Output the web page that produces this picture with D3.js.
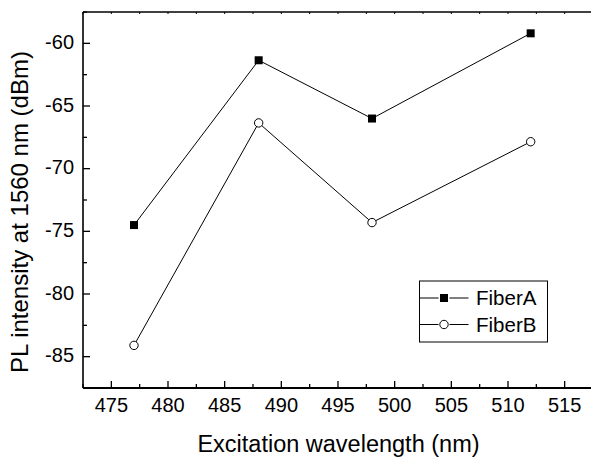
<!DOCTYPE html>
<html>
<head>
<meta charset="utf-8">
<script src="https://cdn.jsdelivr.net/npm/d3@7"></script>
<style>
  body { margin: 0; background: #fff; }
  text { font-family: Arial, "Liberation Sans", sans-serif; }
</style>
</head>
<body>
<div id="chart"></div>
<script>
// excitation wavelengths (nm)
const wavelengths = [477, 488, 498, 512];
// PL intensity at 1560 nm (dBm)
const fiberA = [-74.5, -61.35, -66.0, -59.2];
const fiberB = [-84.1, -66.35, -74.3, -67.85];
const seriesNames = ["FiberA", "FiberB"];
const xTicks = [475, 480, 485, 490, 495, 500, 505, 510, 515];
const yTicks = [-85, -80, -75, -70, -65, -60];

const width = 591, height = 457;
const margin = { top: 12, left: 83, right: -2, bottom: 69 };

const svg = d3.select("#chart").append("svg")
    .attr("width", width)
    .attr("height", height);

const x = d3.scaleLinear()
    .domain([472.5, 517.5])
    .range([margin.left, width - margin.right]);

const y = d3.scaleLinear()
    .domain([-87.5, -57.5])
    .range([height - margin.bottom, margin.top]);

const x0 = margin.left, x1 = width - margin.right;
const y0 = height - margin.bottom, y1 = margin.top;

// minor ticks
const xMinor = d3.range(472.5, 518, 2.5).filter(v => !xTicks.includes(v));
const yMinor = d3.range(-87.5, -57, 2.5).filter(v => !yTicks.includes(v));

// bottom axis
svg.append("g").selectAll("line.xmaj").data(xTicks).enter().append("line")
    .attr("x1", d => x(d)).attr("x2", d => x(d))
    .attr("y1", y0).attr("y2", y0 - 7)
    .attr("stroke", "#000").attr("stroke-width", 1.3);
svg.append("g").selectAll("line.xmin").data(xMinor).enter().append("line")
    .attr("x1", d => x(d)).attr("x2", d => x(d))
    .attr("y1", y0).attr("y2", y0 - 4)
    .attr("stroke", "#000").attr("stroke-width", 1.3);
svg.append("g").selectAll("text").data(xTicks).enter().append("text")
    .attr("x", d => x(d)).attr("y", 411.7)
    .attr("text-anchor", "middle")
    .style("font-size", "20px")
    .text(d => d);

// top axis ticks (small)
svg.append("g").selectAll("line").data(xTicks.concat(xMinor)).enter().append("line")
    .attr("x1", d => x(d)).attr("x2", d => x(d))
    .attr("y1", y1).attr("y2", y1 + 2)
    .attr("stroke", "#000").attr("stroke-width", 1);

// left axis
svg.append("g").selectAll("line").data(yTicks).enter().append("line")
    .attr("x1", x0).attr("x2", x0 + 7)
    .attr("y1", d => y(d)).attr("y2", d => y(d))
    .attr("stroke", "#000").attr("stroke-width", 1.3);
svg.append("g").selectAll("line").data(yMinor).enter().append("line")
    .attr("x1", x0).attr("x2", x0 + 4)
    .attr("y1", d => y(d)).attr("y2", d => y(d))
    .attr("stroke", "#000").attr("stroke-width", 1.3);
svg.append("g").selectAll("text").data(yTicks).enter().append("text")
    .attr("x", 74).attr("y", d => y(d) + 5.8)
    .attr("text-anchor", "end")
    .style("font-size", "20px")
    .text(d => d);

// frame lines
svg.append("line").attr("x1", x0).attr("x2", x1).attr("y1", y1).attr("y2", y1)
    .attr("stroke", "#000").attr("stroke-width", 1.3);
svg.append("line").attr("x1", x0).attr("x2", x1).attr("y1", y0).attr("y2", y0)
    .attr("stroke", "#000").attr("stroke-width", 2);
svg.append("line").attr("x1", x0).attr("x2", x0).attr("y1", y1).attr("y2", y0)
    .attr("stroke", "#000").attr("stroke-width", 1.6);

// series
const line = d3.line().x(d => x(d[0])).y(d => y(d[1]));
const dataA = wavelengths.map((w, i) => [w, fiberA[i]]);
const dataB = wavelengths.map((w, i) => [w, fiberB[i]]);

[dataA, dataB].forEach(data => {
  svg.append("path").datum(data)
      .attr("d", line)
      .attr("fill", "none")
      .attr("stroke", "#000")
      .attr("stroke-width", 1);
});

svg.append("g").selectAll("rect").data(dataA).enter().append("rect")
    .attr("x", d => x(d[0]) - 4).attr("y", d => y(d[1]) - 4)
    .attr("width", 8).attr("height", 8)
    .attr("fill", "#000");

svg.append("g").selectAll("circle").data(dataB).enter().append("circle")
    .attr("cx", d => x(d[0])).attr("cy", d => y(d[1]))
    .attr("r", 4.2)
    .attr("fill", "#fff").attr("stroke", "#000").attr("stroke-width", 1);

// legend
const lg = svg.append("g").attr("transform", "translate(419.5,281)");
lg.append("rect").attr("width", 128).attr("height", 61)
    .attr("fill", "#fff").attr("stroke", "#000").attr("stroke-width", 1);
seriesNames.forEach((name, i) => {
  const ly = 17 + i * 26.5;
  lg.append("line").attr("x1", 0).attr("x2", 19).attr("y1", ly).attr("y2", ly)
      .attr("stroke", "#000");
  lg.append("line").attr("x1", 30).attr("x2", 49).attr("y1", ly).attr("y2", ly)
      .attr("stroke", "#000");
  if (i === 0) {
    lg.append("rect").attr("x", 20.5).attr("y", ly - 4).attr("width", 8).attr("height", 8)
        .attr("fill", "#000");
  } else {
    lg.append("circle").attr("cx", 24.5).attr("cy", ly).attr("r", 4.2)
        .attr("fill", "#fff").attr("stroke", "#000");
  }
  lg.append("text").attr("x", 56.5).attr("y", ly + 7)
      .style("font-size", "20.5px")
      .text(name);
});

// axis titles
svg.append("text")
    .attr("x", 338.5).attr("y", 451.7)
    .attr("text-anchor", "middle")
    .style("font-size", "23.5px")
    .text("Excitation wavelength (nm)");

svg.append("text")
    .attr("transform", "translate(27.5,212) rotate(-90)")
    .attr("text-anchor", "middle")
    .style("font-size", "24px")
    .text("PL intensity at 1560 nm (dBm)");
</script>
</body>
</html>
